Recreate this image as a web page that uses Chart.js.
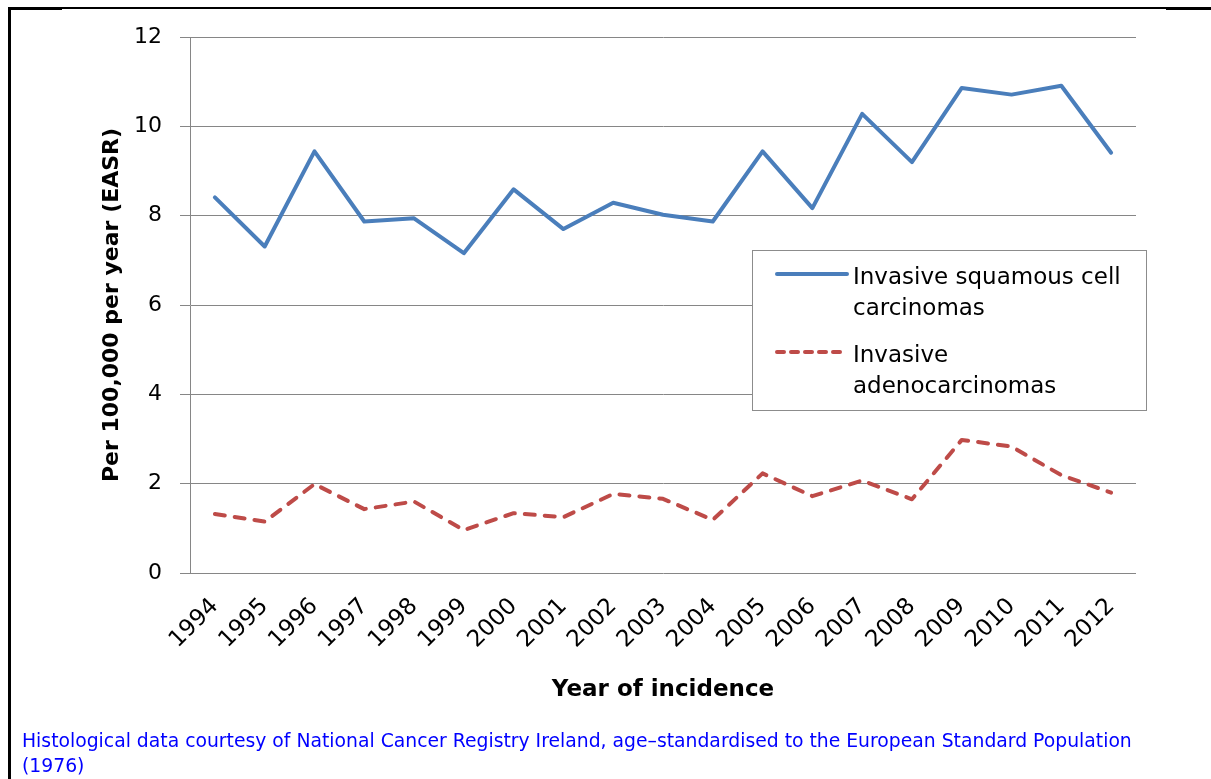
<!DOCTYPE html>
<html lang="en">
<head>
    <meta charset="UTF-8">
    <title>Incidence of invasive cancers</title>
    <script src="https://cdn.jsdelivr.net/npm/chart.js"></script>
    <style>
        body { margin: 0; background: #fff; width: 1211px; height: 779px; overflow: hidden; position: relative; font-family: 'DejaVu Sans', sans-serif; }
        .rule { position: absolute; background: #000; }
        #myChart { position: absolute; left: 0; top: 0; }
        #legend { position: absolute; left: 752px; top: 250px; width: 393px; height: 159px; border: 1px solid #8c8c8c; background: #fff; font-size: 23px; color: #000; }
        #legend .item { position: absolute; left: 20px; }
        #legend svg { position: absolute; left: 0; }
        #legend .text { position: absolute; left: 80px; width: 300px; line-height: 31px; }
        #note { position: absolute; left: 22px; top: 728px; width: 1150px; color: #0000ff; font-size: 18.8px; line-height: 25px; }
    </style>
</head>
<body>
    <div class="rule" style="left:8px; top:7px; width:1203px; height:2px;"></div>
    <div class="rule" style="left:8px; top:7px; width:54px; height:3px;"></div>
    <div class="rule" style="left:1166px; top:7px; width:45px; height:3px;"></div>
    <div class="rule" style="left:8px; top:7px; width:3px; height:772px;"></div>

    <canvas id="myChart" width="1211" height="779"></canvas>
    <div id="legend"></div>
    <div id="note">Histological data courtesy of National Cancer Registry Ireland, age–standardised to the European Standard Population (1976)</div>

    <script>
        const years = ['1994', '1995', '1996', '1997', '1998', '1999', '2000', '2001', '2002', '2003',
                       '2004', '2005', '2006', '2007', '2008', '2009', '2010', '2011', '2012'];
        const squamous = [8.41, 7.31, 9.44, 7.87, 7.94, 7.16, 8.59, 7.70, 8.29, 8.02,
                          7.87, 9.44, 8.17, 10.28, 9.20, 10.86, 10.71, 10.91, 9.41];
        const adeno = [1.32, 1.15, 1.99, 1.43, 1.60, 0.96, 1.34, 1.25, 1.77, 1.66,
                       1.19, 2.23, 1.72, 2.07, 1.65, 2.98, 2.83, 2.19, 1.80];
        const seriesNames = ['Invasive squamous cell carcinomas', 'Invasive adenocarcinomas'];
        const yTicks = [0, 2, 4, 6, 8, 10, 12];

        const gridGrey = '#868686';
        const fontFamily = "'DejaVu Sans', sans-serif";

        const ctx = document.getElementById('myChart').getContext('2d');
        const chart = new Chart(ctx, {
            type: 'line',
            data: {
                labels: years,
                datasets: [
                    {
                        label: seriesNames[0],
                        data: squamous,
                        borderColor: '#4a7ebb',
                        borderWidth: 4,
                        borderJoinStyle: 'round',
                        borderCapStyle: 'round',
                        pointRadius: 0,
                        tension: 0
                    },
                    {
                        label: seriesNames[1],
                        data: adeno,
                        borderColor: '#be4b48',
                        borderWidth: 4,
                        borderDash: [10, 10],
                        borderJoinStyle: 'round',
                        borderCapStyle: 'round',
                        pointRadius: 0,
                        tension: 0
                    }
                ]
            },
            options: {
                responsive: false,
                animation: false,
                layout: { padding: { left: 0, top: 37, right: 75, bottom: 75 } },
                plugins: {
                    legend: { display: false },
                    tooltip: { enabled: false }
                },
                scales: {
                    x: {
                        offset: true,
                        grid: { display: false, drawTicks: false },
                        border: { display: false },
                        ticks: {
                            minRotation: 45,
                            maxRotation: 45,
                            autoSkip: false,
                            padding: 20,
                            color: '#000',
                            font: { family: fontFamily, size: 23 }
                        },
                        title: {
                            display: true,
                            text: 'Year of incidence',
                            color: '#000',
                            padding: 0,
                            font: { family: fontFamily, size: 23, weight: 'bold' }
                        },
                        afterFit: scale => { scale.height = 131; }
                    },
                    y: {
                        min: 0,
                        max: 12,
                        afterBuildTicks: scale => { scale.ticks = yTicks.map(v => ({ value: v })); },
                        grid: { color: gridGrey, lineWidth: 1, tickLength: 10 },
                        border: { display: true, color: gridGrey, width: 1 },
                        ticks: {
                            padding: 18,
                            color: '#000',
                            font: { family: fontFamily, size: 22 }
                        },
                        title: {
                            display: true,
                            text: 'Per 100,000 per year (EASR)',
                            color: '#000',
                            padding: { top: 99, bottom: 0 },
                            font: { family: fontFamily, size: 22, weight: 'bold' }
                        },
                        afterFit: scale => { scale.width = 190; }
                    }
                }
            }
        });

        // legend box built from the datasets
        const legend = document.getElementById('legend');
        const itemTops = [10, 88];
        chart.data.datasets.forEach((ds, i) => {
            const item = document.createElement('div');
            item.className = 'item';
            item.style.top = itemTops[i] + 'px';
            const dash = ds.borderDash ? `stroke-dasharray="${ds.borderDash.map(v => v * 0.7).join(' ')}"` : '';
            item.innerHTML =
                `<svg width="78" height="30" style="top:0"><line x1="4" y1="13" x2="74" y2="13" stroke="${ds.borderColor}" stroke-width="4" stroke-linecap="round" ${dash}/></svg>` +
                `<div class="text">${ds.label}</div>`;
            legend.appendChild(item);
        });
    </script>
</body>
</html>
